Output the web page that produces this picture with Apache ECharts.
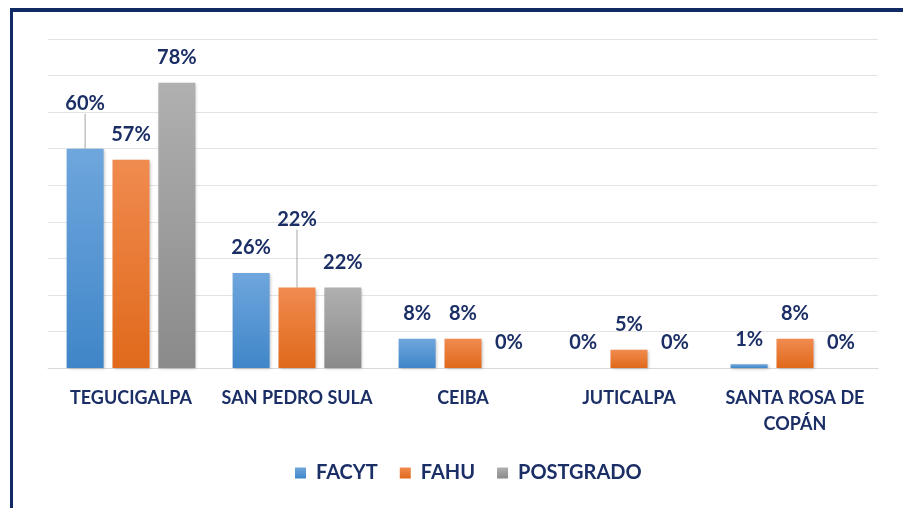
<!DOCTYPE html>
<html>
<head>
<meta charset="utf-8">
<script src="https://cdn.jsdelivr.net/npm/echarts@6/dist/echarts.min.js"></script>
<style>
  html, body { margin: 0; padding: 0; background: #fff; }
  #main { width: 903px; height: 508px; }
</style>
</head>
<body>
<div id="main"></div>
<script>
// datos
var sedes = ['TEGUCIGALPA', 'SAN PEDRO SULA', 'CEIBA', 'JUTICALPA', 'SANTA ROSA DE\nCOPÁN'];
var facyt = [60, 26, 8, 0, 1];
var fahu = [57, 22, 8, 5, 8];
var postgrado = [78, 22, 0, 0, 0];

var navy = '#1b2f66';
var font = 'Lato';

function grad(top, bottom) {
    return new echarts.graphic.LinearGradient(0, 0, 0, 1, [
        { offset: 0, color: top },
        { offset: 1, color: bottom }
    ]);
}

// etiquetas desplazadas hacia arriba con línea guía (serie-índice: dy)
var moved = { '0-0': -20, '1-1': -43 };

function serie(name, values, top, bottom, idx) {
    var data = values.map(function (v, i) {
        var key = idx + '-' + i;
        if (moved[key] !== undefined) {
            return { value: v, labelLine: { show: true } };
        }
        return v;
    });
    return {
        name: name,
        type: 'bar',
        data: data,
        barWidth: 37,
        barGap: '24%',
        itemStyle: {
            color: grad(top, bottom),
            shadowColor: 'rgba(0,0,0,0.25)',
            shadowBlur: 3,
            shadowOffsetX: 1,
            shadowOffsetY: 1
        },
        label: {
            show: true,
            position: 'top',
            distance: 15,
            formatter: '{c}%',
            color: navy,
            fontFamily: font,
            fontWeight: 'bold',
            fontSize: 20
        },
        labelLine: {
            show: false,
            lineStyle: { color: '#a6a6a6', width: 1 }
        },
        labelLayout: function (p) {
            var key = idx + '-' + p.dataIndex;
            if (moved[key] !== undefined) {
                return { dy: moved[key] };
            }
            return {};
        }
    };
}

var myChart = echarts.init(document.getElementById('main'));
myChart.setOption({
    backgroundColor: '#fff',
    animation: false,
    graphic: [
        { type: 'rect', shape: { x: 10, y: 8, width: 893, height: 4 }, style: { fill: '#112a63' } },
        { type: 'rect', shape: { x: 10, y: 8, width: 3, height: 500 }, style: { fill: '#112a63' } }
    ],
    grid: { left: 48, right: 25, top: 39, bottom: 140 },
    legend: {
        data: ['FACYT', 'FAHU', 'POSTGRADO'],
        bottom: 20,
        left: 290,
        itemWidth: 11,
        itemHeight: 11,
        itemGap: 22,
        icon: 'rect',
        textStyle: {
            color: navy, fontFamily: font, fontWeight: 'bold', fontSize: 20,
            padding: [0, 0, 0, 5]
        }
    },
    xAxis: {
        type: 'category',
        data: sedes,
        axisLine: { lineStyle: { color: '#d9d9d9', width: 1 } },
        axisTick: { show: false },
        axisLabel: {
            color: navy,
            fontFamily: font,
            fontWeight: 'bold',
            fontSize: 18,
            margin: 17,
            lineHeight: 26,
            interval: 0
        }
    },
    yAxis: {
        type: 'value',
        min: 0,
        max: 90,
        interval: 10,
        axisLabel: { show: false },
        axisLine: { show: false },
        axisTick: { show: false },
        splitLine: { lineStyle: { color: '#e3e3e3', width: 1 } }
    },
    series: [
        serie('FACYT', facyt, '#6fa6dd', '#3f86c8', 0),
        serie('FAHU', fahu, '#f08b4f', '#e0691b', 1),
        serie('POSTGRADO', postgrado, '#b0b0b0', '#8a8a8a', 2)
    ]
});
</script>
</body>
</html>
